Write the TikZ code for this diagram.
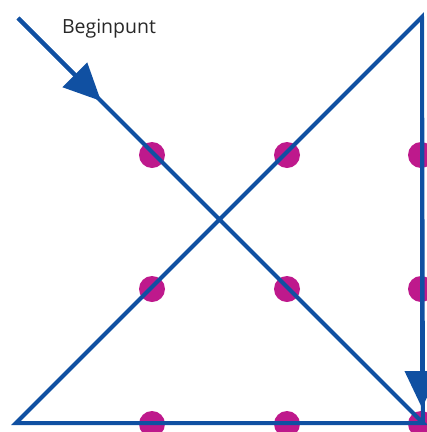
\documentclass[tikz,border=0pt]{standalone}
\usepackage{fontspec}
\setmainfont{Open Sans}
\usetikzlibrary{arrows.meta}
\definecolor{lineblue}{RGB}{16,80,162}
\definecolor{dotpink}{RGB}{190,25,140}
\definecolor{textgray}{RGB}{40,40,40}
\tikzset{
  puzzleline/.style={draw=lineblue, line width=4pt, line join=miter},
  arrowseg/.style={draw=lineblue, line width=4pt, -{Triangle[length=37pt,width=34pt]}},
  dotnode/.style={circle, fill=dotpink, minimum size=26pt, inner sep=0pt},
  labeltext/.style={text=textgray, font=\fontsize{19.5}{22}\selectfont, anchor=base}
}
\begin{document}
\begin{tikzpicture}[x=1pt,y=-1pt]
\useasboundingbox (0,0) rectangle (427,432);
\clip (0,0) rectangle (427,432);
% dots
\foreach \i/\x in {1/152,2/287,3/421}{
  \foreach \j/\y in {1/155,2/289,3/424}{
    \node[dotnode] (d\i\j) at (\x,\y) {};
  }
}
% path points
\coordinate (start) at (18,18);
\coordinate (tipA) at (101,101);
\coordinate (br) at (423,423);
\coordinate (bl) at (16,423);
\coordinate (tr) at (422,17);
\coordinate (tipB) at (422,408);
% lines
\draw[puzzleline] (start) -- (br) -- (bl) -- (tr) -- (br);
\draw[arrowseg] (start) -- (tipA);
\draw[arrowseg] (tr) -- (tipB);
\node[labeltext] (lbl) at (109,33) {Beginpunt};
\end{tikzpicture}
\end{document}
